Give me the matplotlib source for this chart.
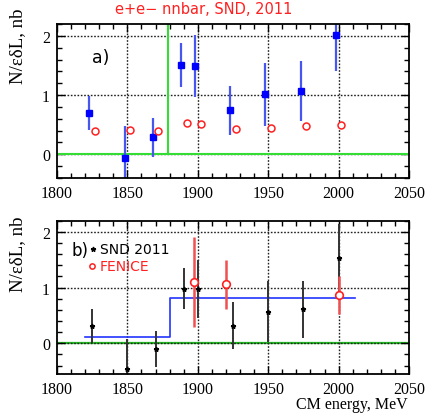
import matplotlib
matplotlib.use("Agg")
import matplotlib.pyplot as plt
from matplotlib.ticker import MultipleLocator

# Panel a): raw SND yields (blue) and background estimate (red)
snd_e_a = [1823, 1848, 1868, 1888, 1898, 1923, 1948, 1973, 1998]
snd_y_a = [0.70, -0.06, 0.29, 1.51, 1.49, 0.74, 1.01, 1.07, 2.02]
snd_err_a = [0.29, 0.53, 0.33, 0.37, 0.52, 0.41, 0.53, 0.51, 0.61]
bkg_e = [1827, 1852, 1872, 1892, 1902, 1927, 1952, 1977, 2002]
bkg_y = [0.39, 0.41, 0.39, 0.53, 0.52, 0.43, 0.44, 0.47, 0.49]
bkg_err = [0.05, 0.05, 0.05, 0.05, 0.05, 0.05, 0.05, 0.05, 0.05]
threshold = 1879

# Panel b): background-subtracted SND 2011, FENICE, step fit
snd_e_b = [1825, 1850, 1870, 1890, 1900, 1925, 1950, 1975, 2000]
snd_y_b = [0.31, -0.46, -0.10, 0.98, 0.98, 0.32, 0.57, 0.61, 1.53]
snd_err_b = [0.30, 0.53, 0.32, 0.37, 0.52, 0.42, 0.55, 0.51, 0.61]
fen_e = [1897, 1920, 2000]
fen_y = [1.10, 1.06, 0.875]
fen_err = [0.80, 0.44, 0.34]
step_e = [1820, 1880, 1880, 2012]
step_y = [0.11, 0.11, 0.81, 0.81]

xticks = [1800, 1850, 1900, 1950, 2000, 2050]
yticks = [0, 1, 2]

W, H = 434, 414
fig = plt.figure(figsize=(W / 100, H / 100), dpi=100)
fig.patch.set_facecolor("white")

def frame(top, bottom):
    return [57 / W, 1 - bottom / H, 352 / W, (bottom - top) / H]

def px(x, y):
    return x / W, 1 - y / H

ax1 = fig.add_axes(frame(25, 179))
ax2 = fig.add_axes(frame(221.7, 375))

serif = "Liberation Serif"
sans = "DejaVu Sans"
dots = (0, (1.2, 1.2))

for ax, ylo in ((ax1, -0.4), (ax2, -0.55)):
    ax.set_xlim(1800, 2050)
    ax.set_ylim(ylo, 2.2)
    ax.set_xticks(xticks)
    ax.set_yticks(yticks)
    ax.xaxis.set_minor_locator(MultipleLocator(10))
    ax.yaxis.set_minor_locator(MultipleLocator(0.2))
    ax.tick_params(which="both", direction="in", top=True, right=True,
                   width=1.0, color="black")
    ax.tick_params(which="major", length=6, labelsize=11.5, pad=5)
    ax.tick_params(which="minor", length=3.5)
    for lab in ax.get_xticklabels() + ax.get_yticklabels():
        lab.set_fontfamily(serif)
    # dotted grid at the major ticks
    for xv in xticks[1:-1]:
        ax.plot([xv, xv], [ylo, 2.2], linestyle=dots, color="#202020",
                lw=1.0, zorder=1, dash_capstyle="butt")
    for yv in yticks:
        ax.plot([1800, 2050], [yv, yv], linestyle=dots, color="#202020",
                lw=1.0, zorder=1, dash_capstyle="butt")
    for s in ax.spines.values():
        s.set_linewidth(1.3)
        s.set_zorder(6)

# Panel a
ax1.plot([1800, 2050], [0, 0], color="#33dd33", lw=1.5, zorder=2)
ax1.plot([threshold, threshold], [0, 2.2], color="#33dd33", lw=1.5, zorder=2)
ax1.errorbar(snd_e_a, snd_y_a, yerr=snd_err_a, fmt="s", color="#0000ff",
             ecolor="#4657f0", elinewidth=1.6, markersize=5, capsize=0, zorder=4)
ax1.errorbar(bkg_e, bkg_y, yerr=bkg_err, fmt="o", color="#ff2020",
             mfc="white", mec="#ff2020", mew=1.1, elinewidth=1.2,
             markersize=5, capsize=0, zorder=4)
fig.text(*px(100.5, 58), "a)", fontsize=12.5, family=sans,
         ha="center", va="center")

# Panel b
ax2.plot([1800, 2050], [0, 0], color="#22bb22", lw=1.6, zorder=0.5)
ax2.plot(step_e, step_y, color="#2233ff", lw=1.2, zorder=3)
ax2.errorbar(snd_e_b, snd_y_b, yerr=snd_err_b, fmt="*", color="black",
             ecolor="#333333", elinewidth=1.4, markersize=3.5, capsize=0, zorder=4)
ax2.errorbar(fen_e, fen_y, yerr=fen_err, fmt="o", color="#ff3030",
             mfc="white", mec="#ff2020", mew=1.2, ecolor="#f05050",
             elinewidth=1.8, markersize=5.5, capsize=0, zorder=5)

# Legend-style annotations in panel b
fig.text(*px(71.5, 250.5), "b)", fontsize=12, family=sans,
         ha="left", va="center")
fig.lines.append(plt.Line2D(*[[v] for v in px(92.5, 250)], marker="*",
                            color="black", markersize=3.5,
                            transform=fig.transFigure))
fig.text(*px(99.5, 250.5), "SND 2011", fontsize=10, family=sans,
         ha="left", va="center")
fig.lines.append(plt.Line2D(*[[v] for v in px(92.3, 266.7)], marker="o",
                            color="#ff2020", mfc="white", mew=1.1,
                            markersize=3.8, transform=fig.transFigure))
fig.text(*px(99.5, 267), "FENICE", fontsize=10, family=sans,
         color="#ff2020", ha="left", va="center")

# Axis titles
fig.text(*px(18, 9), "N/εδL, nb", rotation=90, fontsize=13.5,
         family=serif, ha="center", va="top")
fig.text(*px(18, 216), "N/εδL, nb", rotation=90, fontsize=13.5,
         family=serif, ha="center", va="top")
fig.text(*px(408, 405), "CM energy, MeV", fontsize=11.5,
         family=serif, ha="right", va="center")

# Title
fig.text(*px(204, 10), "e+e− nnbar, SND, 2011", fontsize=10.5,
         family=sans, color="#ff2020", ha="center", va="center")

fig.savefig("out.png", dpi=100, facecolor="white")
